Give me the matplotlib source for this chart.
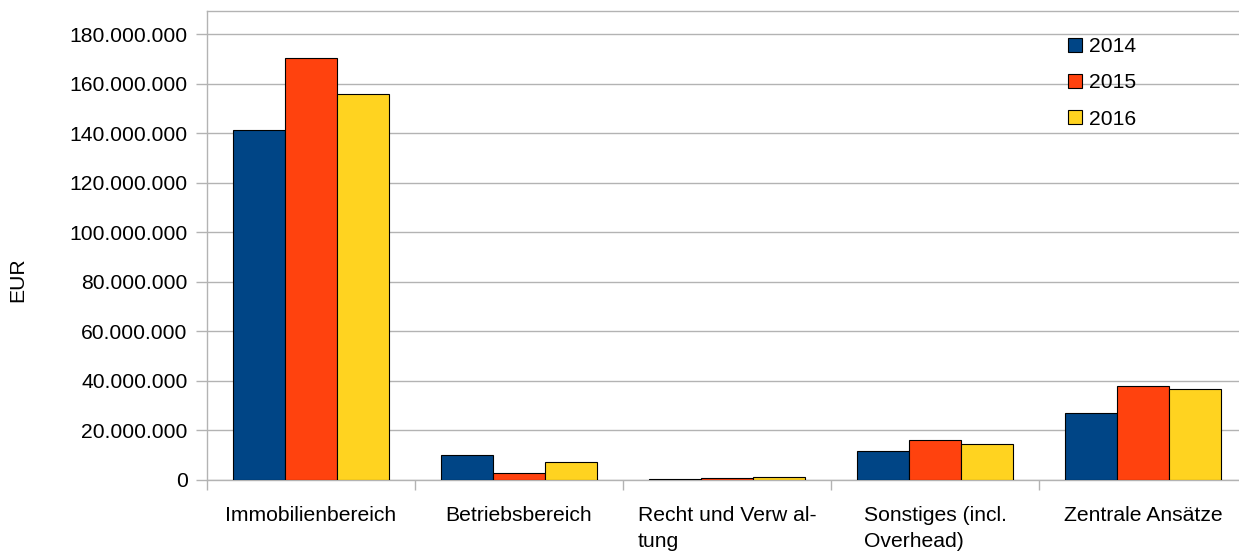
import matplotlib
matplotlib.use('Agg')
import matplotlib.pyplot as plt
import numpy as np
from matplotlib.ticker import FuncFormatter, FixedLocator

plt.rcParams['font.family'] = ['Liberation Sans', 'DejaVu Sans']

# Data (EUR)
categories = ['Immobilienbereich', 'Betriebsbereich', 'Recht und Verw al-\ntung',
              'Sonstiges (incl.\nOverhead)', 'Zentrale Ansätze']
years = ['2014', '2015', '2016']
v2014 = [141.3e6, 9.9e6, 0.4e6, 11.6e6, 26.9e6]
v2015 = [170.5e6, 2.7e6, 0.5e6, 16.0e6, 38.0e6]
v2016 = [155.8e6, 7.2e6, 1.1e6, 14.4e6, 36.6e6]
colors = ['#004586', '#ff420e', '#ffd320']

fs = 15.2
grid_col = '#b3b3b3'

fig = plt.figure(figsize=(12.39, 5.51), dpi=100)
ax = fig.add_axes([207 / 1239, 1 - 479.7 / 551, 1040 / 1239, (479.7 - 10.7) / 551])

x = np.arange(len(categories))
w = 0.25
for i, (vals, c, lab) in enumerate(zip([v2014, v2015, v2016], colors, years)):
    ax.bar(x + (i - 1) * w, vals, width=w, color=c, edgecolor='black',
           linewidth=0.8, label=lab, zorder=3)

ax.set_xlim(-0.5, len(categories) - 0.5)
ax.set_ylim(0, 189.5e6)
ax.set_yticks(np.arange(0, 180e6 + 1, 20e6))
ax.yaxis.set_major_formatter(FuncFormatter(lambda v, p: f'{int(v):,}'.replace(',', '.')))
ax.grid(axis='y', color=grid_col, linewidth=1, zorder=0)

ax.set_xticks(x)
ax.set_xticklabels(categories, fontsize=fs, linespacing=1.45, multialignment='left')
ax.xaxis.set_minor_locator(FixedLocator(np.arange(-0.5, len(categories), 1.0)))
ax.tick_params(axis='x', which='major', length=0, pad=19)
ax.tick_params(axis='x', which='minor', length=7.5, color=grid_col, width=1)
ax.tick_params(axis='y', length=8, color=grid_col, width=1, pad=6, labelsize=fs)

for s in ax.spines.values():
    s.set_color(grid_col)
    s.set_linewidth(1)

fig.text(18 / 1239, 1 - 280 / 551, 'EUR', rotation=90, fontsize=fs,
         ha='center', va='center')

leg = ax.legend(loc='upper left', bbox_to_anchor=(1068 / 1239, 1 - 37 / 551),
                bbox_transform=fig.transFigure, frameon=False, fontsize=fs,
                handlelength=0.65, handleheight=0.65, handletextpad=0.35,
                labelspacing=0.82, borderaxespad=0, borderpad=0)

fig.savefig('out.png', dpi=100)
